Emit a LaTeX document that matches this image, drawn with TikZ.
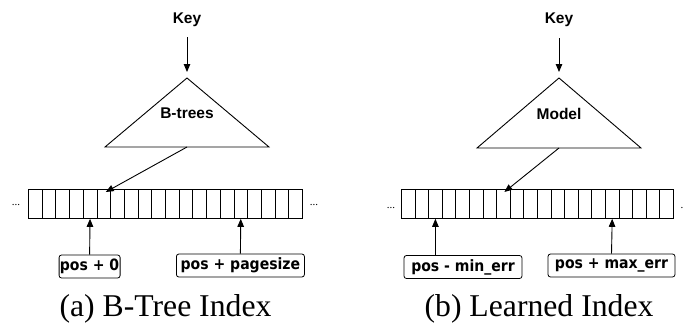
\documentclass[tikz,border=0pt]{standalone}
\usepackage{fontspec}
\setmainfont{Liberation Serif}
\newfontfamily\labelfont{Liberation Sans}
\newfontfamily\boxfont{DejaVu Sans Condensed}
\usetikzlibrary{arrows.meta,calc}

\tikzset{
  headtxt/.style={font=\labelfont\bfseries\fontsize{15.5}{18}\selectfont, inner sep=0pt},
  cell/.style={draw, line width=0.8pt, minimum height=29pt, inner sep=0pt, anchor=north west},
  posbox/.style={draw, line width=0.8pt, rounded corners=2.5pt, minimum height=23pt, inner sep=0pt,
                 font=\boxfont\bfseries\fontsize{15.6}{17}\selectfont},
  conn/.style={line width=0.9pt, -{Triangle[length=8pt,width=6.5pt]}},
  edge/.style={line width=0.9pt},
  dots/.style={font=\fontsize{11}{12}\selectfont, inner sep=0pt},
  caption/.style={font=\fontsize{31.7}{36}\selectfont, inner sep=0pt, anchor=base}
}

\begin{document}
\begin{tikzpicture}[x=1pt,y=-1pt]
\useasboundingbox (0,0) rectangle (684,324);

% ---------- (a) B-tree index ----------
\node[headtxt] (keyA) at (187,20) {Key};
\coordinate (apexA) at (187,78);
\coordinate (blA) at (105,147);
\coordinate (brA) at (269,147);
\coordinate (midA) at (187,147);
\draw[edge] (apexA) -- (blA) -- (brA) -- cycle;
\node[headtxt] (treeA) at (187,113) {B-trees};
\draw[conn] (keyA.south |- 0,37) -- (apexA |- 0,72);

\foreach \i in {0,...,19}
  \node[cell, minimum width=13.7pt] (cA-\i) at ({28+13.7*\i},189) {};
\node[dots] (ldA) at (16,205) {...};
\node[dots] (rdA) at (314,205) {...};

\draw[conn] (midA) -- ($(cA-5.north)+(2,3)$);

\node[posbox, minimum width=61pt] (p0) at (89.6,266.5) {pos + 0};
\node[posbox, minimum width=128pt] (pg) at (240.4,265.5) {pos + pagesize};
\draw[conn] (p0.north) -- (cA-4.south);
\draw[conn] (pg.north) -- (cA-15.south);

\node[caption] (capA) at (165.5,316) {(a) B-Tree Index};

% ---------- (b) learned index ----------
\node[headtxt] (keyB) at (559,20) {Key};
\coordinate (apexB) at (559,78);
\coordinate (blB) at (477,148);
\coordinate (brB) at (641,148);
\coordinate (midB) at (559,148);
\draw[edge] (apexB) -- (blB) -- (brB) -- cycle;
\node[headtxt] (modelB) at (559,114) {Model};
\draw[conn] (keyB.south |- 0,38) -- (apexB |- 0,72);

\foreach \i in {0,...,19}
  \node[cell, minimum width=13.6pt] (cB-\i) at ({401+13.6*\i},189) {};
\node[dots] (ldB) at (391,208) {...};
\node[dots] (rdB) at (682,208) {.};

\draw[conn] (midB) -- ($(cB-7.north)+(1,3)$);

\node[posbox, minimum width=118pt] (pmin) at (463,267) {pos - min\_err};
\node[posbox, minimum width=127pt] (pmax) at (611.5,265.5) {pos + max\_err};
\draw[conn] (cB-2.south |- pmin.north) -- (cB-2.south);
\draw[conn] (pmax.north) -- (cB-15.south);

\node[caption] (capB) at (539,316) {(b) Learned Index};
\end{tikzpicture}
\end{document}
